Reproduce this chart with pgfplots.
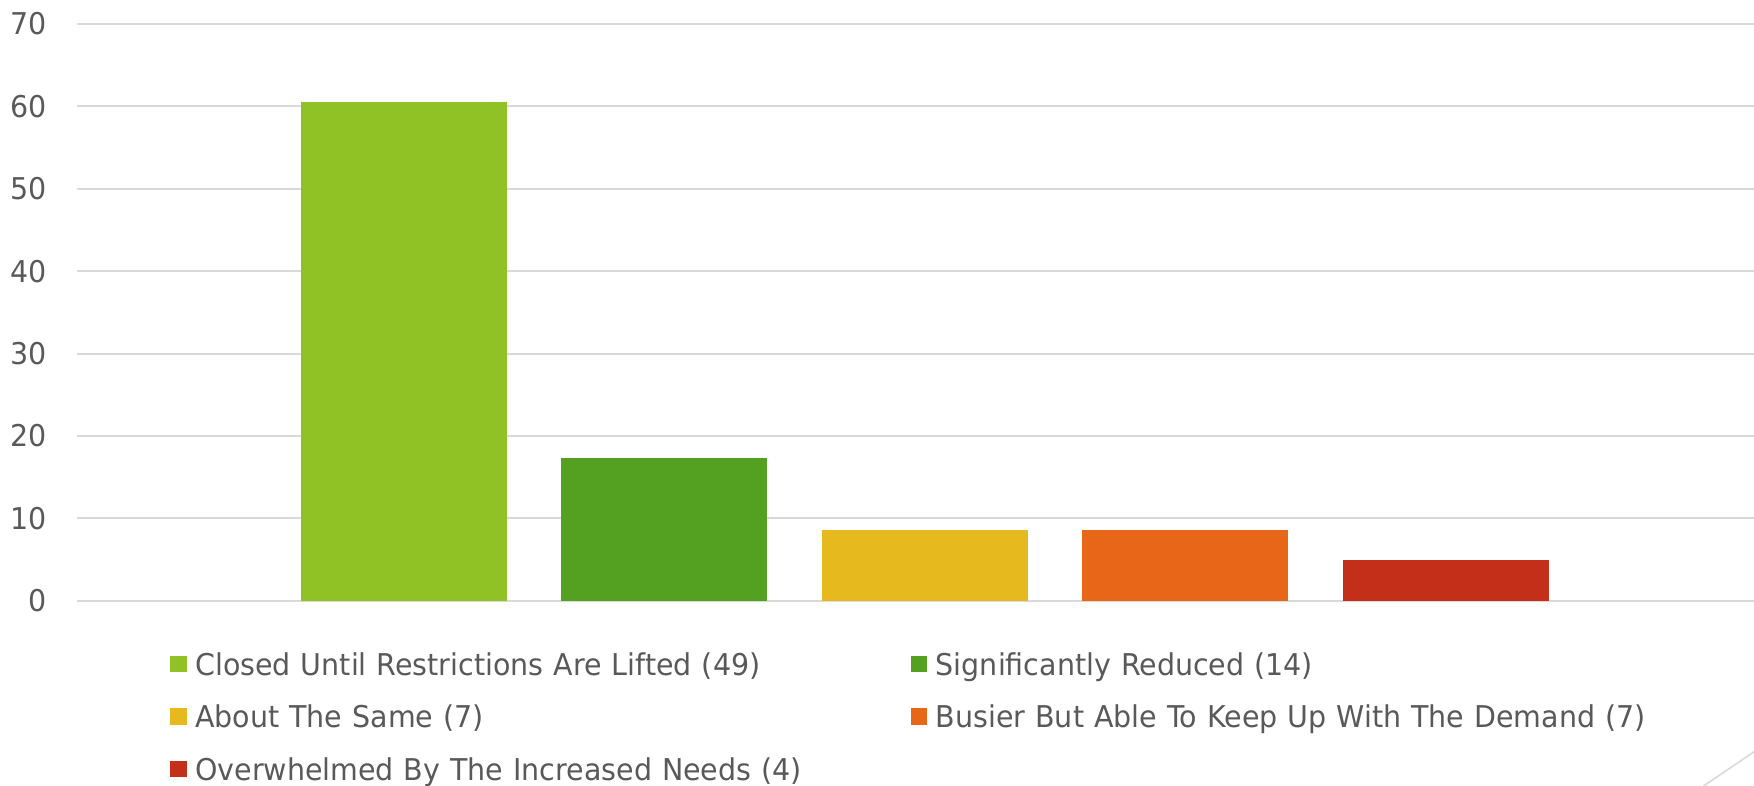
\documentclass[border=0pt]{standalone}
\usepackage{pgfplots}
\pgfplotsset{compat=1.18}
\usepackage{fontspec}
\setmainfont[FakeStretch=0.95]{DejaVu Sans}
\definecolor{c1}{HTML}{90C226}
\definecolor{c2}{HTML}{54A021}
\definecolor{c3}{HTML}{E6B91E}
\definecolor{c4}{HTML}{E76618}
\definecolor{c5}{HTML}{C42F1A}
\definecolor{txt}{HTML}{595959}
\definecolor{gridc}{HTML}{D9D9D9}
\begin{document}
\begin{tikzpicture}
\useasboundingbox (0,0) rectangle (877pt,393pt);
\begin{axis}[
  at={(38.3pt,92.65pt)}, anchor=south west,
  scale only axis, width=838.65pt, height=288.35pt,
  xmin=-1.2564, xmax=5.182, ymin=0, ymax=70,
  ytick={0,10,20,30,40,50,60,70}, xtick=\empty,
  ymajorgrids, major grid style={color=gridc, line width=1pt},
  axis line style={draw=none}, major tick length=0pt,
  clip=false,
  font=\fontsize{15}{18}\selectfont, color=txt,
  /pgf/number format/assume math mode=true,
  yticklabel style={inner sep=0pt, xshift=-14.8pt, text=txt, font=\fontsize{15}{18}\selectfont},
  ybar, bar width=103pt, bar shift=0pt,
  legend columns=2,
  legend style={at={(0.0557,-0.0838)}, anchor=north west, draw=none, fill=none,
    inner sep=0pt, outer sep=0pt, row sep=11.2pt,
    font=\fontsize{15}{18}\selectfont, text=txt,
    nodes={inner sep=0pt, outer sep=0pt, text height=13pt, text depth=2.06pt},
    /tikz/every odd column/.style={column sep=4.3pt},
    /tikz/every even column/.style={column sep=0pt}},
  legend cell align=left,
  legend image code/.code={\fill[#1] (0pt,-4.15pt) rectangle (8.3pt,4.15pt);},
  every axis legend/.append style={nodes={text width=357.7pt, align=left}},
]
\addplot[fill=c1, draw=none] coordinates {(0,60.49)};
\addlegendentry{Closed Until Restrictions Are Lifted (49)}
\addplot[fill=c2, draw=none] coordinates {(1,17.28)};
\addlegendentry{Significantly Reduced (14)}
\addplot[fill=c3, draw=none] coordinates {(2,8.64)};
\addlegendentry{About The Same (7)}
\addplot[fill=c4, draw=none] coordinates {(3,8.64)};
\addlegendentry{Busier But Able To Keep Up With The Demand (7)}
\addplot[fill=c5, draw=none] coordinates {(4,4.94)};
\addlegendentry{Overwhelmed By The Increased Needs (4)}
\end{axis}
\draw[gridc, line width=0.8pt] (851.75pt,0pt) -- (877pt,17.1pt);
\end{tikzpicture}
\end{document}
